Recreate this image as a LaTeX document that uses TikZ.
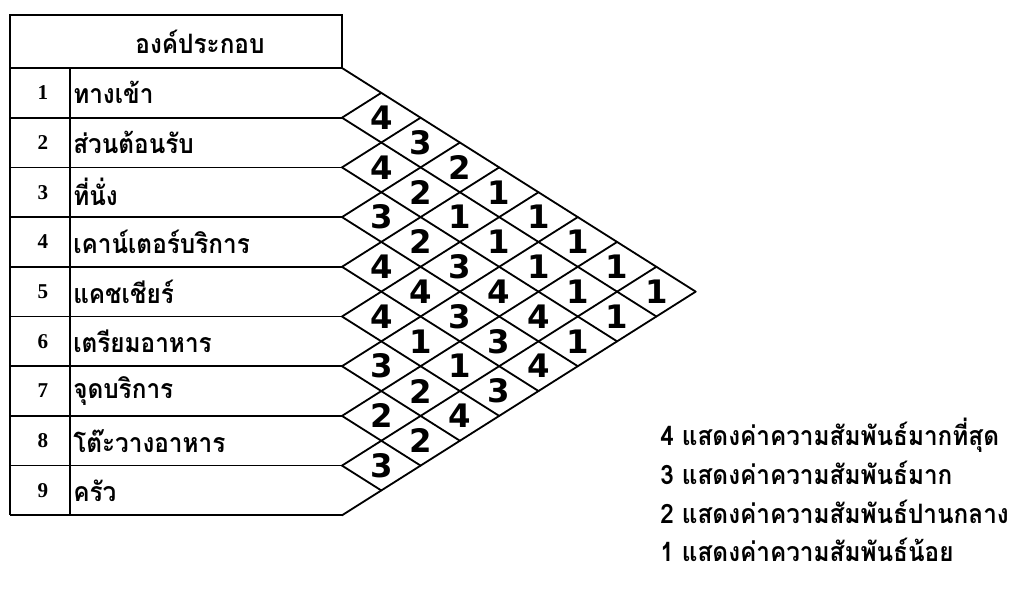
\documentclass[tikz,border=0pt]{standalone}
\usepackage{fontspec}
\newfontfamily\thaifont[Script=Thai, FakeStretch=0.91]{Loma}
\newfontfamily\numfont{Liberation Serif}
\newfontfamily\gridfont{DejaVu Sans}
\usetikzlibrary{positioning}
\tikzset{
  rowline/.style={line width=1.2pt},
  gridline/.style={line width=1.3pt, line cap=round},
  rownum/.style={inner sep=0pt, font=\numfont\bfseries\fontsize{15}{15}\selectfont},
  rowname/.style={anchor=west, inner sep=0pt, font=\thaifont\bfseries\fontsize{19}{19}\selectfont},
  relval/.style={inner sep=0pt, font=\gridfont\bfseries\fontsize{23}{23}\selectfont},
  legendtxt/.style={anchor=west, inner sep=0pt, font=\thaifont\bfseries\fontsize{19}{19}\selectfont},
}

\begin{document}
\begin{tikzpicture}[x=0.025cm, y=-0.025cm]
  \useasboundingbox (0,0) rectangle (1032,590);
  % table
  \draw[rowline] (10,15) rectangle (342,68);
  \node[rowname, anchor=center] (hdr) at (200,42) {องค์ประกอบ};
  \draw[rowline] (10,68) -- (10,515);
  \draw[rowline] (70,68) -- (70,515);
  \foreach \k in {1,...,9} \draw[rowline] (10,{68+\k*49.7}) -- (342,{68+\k*49.7});
  \foreach \name [count=\i] in {ทางเข้า, ส่วนต้อนรับ, ที่นั่ง, เคาน์เตอร์บริการ, แคชเชียร์,
      เตรียมอาหาร, จุดบริการ, โต๊ะวางอาหาร, ครัว} {
    \node[rownum] (n\i) at (43,{68+(\i-0.5)*49.7}) {\i};
    \node[rowname] (r\i) at (73,{68+(\i-0.5)*49.7}) {\name};
  }
  % diamond grid
  \foreach \k in {0,...,8} \draw[gridline] (342,{68+\k*49.7}) -- ++({(9-\k)*39.3},{(9-\k)*24.85});
  \foreach \k in {1,...,9} \draw[gridline] (342,{68+\k*49.7}) -- ++({\k*39.3},{-\k*24.85});
  \foreach \vals [count=\i] in {{4,3,2,1,1,1,1,1},{4,2,1,1,1,1,1},{3,2,3,4,4,1},
      {4,4,3,3,4},{4,1,1,3},{3,2,4},{2,2},{3}} {
    \foreach \v [count=\d] in \vals
      \node[relval] (v\i\d) at ({342+\d*39.3},{68+(\i+\d/2-0.5)*49.7}) {\v};
  }
  % legend
  \node[legendtxt] (l4) at (660,435) {4 แสดงค่าความสัมพันธ์มากที่สุด};
  \node[legendtxt] (l3) at (660,473) {3 แสดงค่าความสัมพันธ์มาก};
  \node[legendtxt] (l2) at (660,512) {2 แสดงค่าความสัมพันธ์ปานกลาง};
  \node[legendtxt] (l1) at (660,550) {1 แสดงค่าความสัมพันธ์น้อย};
\end{tikzpicture}
\end{document}
